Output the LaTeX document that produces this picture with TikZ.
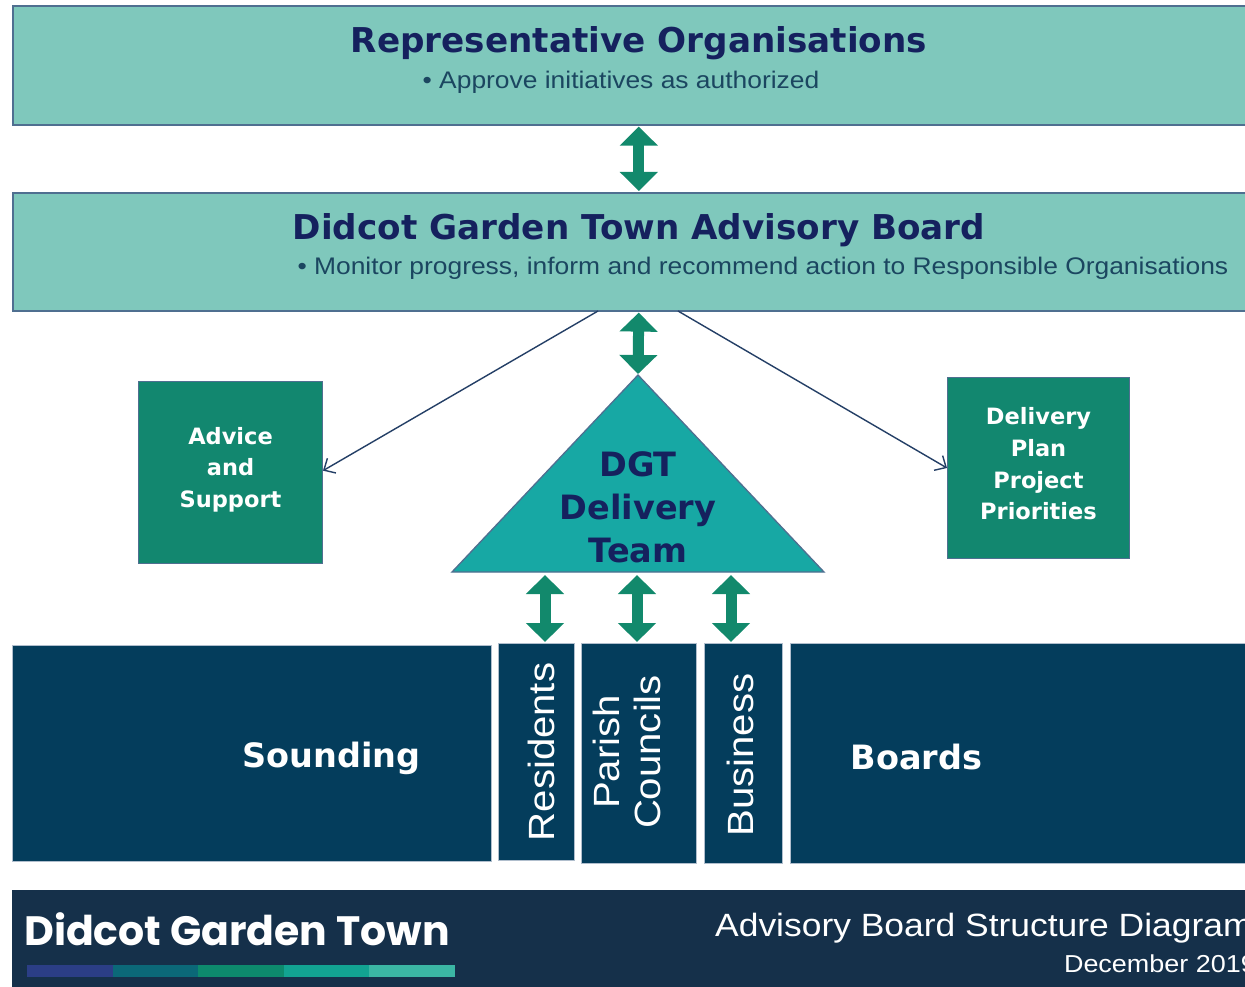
\documentclass[tikz,border=0pt]{standalone}
\usepackage{fontspec}
\setmainfont{Liberation Sans}[FakeStretch=1.1]
\newfontfamily\headfont{DejaVu Sans}
\newfontfamily\logofont{Poppins}
\usetikzlibrary{arrows.meta,calc}
\definecolor{lightteal}{HTML}{7FC8BC}
\definecolor{boxline}{HTML}{4F6F90}
\definecolor{navytxt}{HTML}{15215E}
\definecolor{subtxt}{HTML}{1B4660}
\definecolor{arrowgreen}{HTML}{12896C}
\definecolor{tealtri}{HTML}{17A8A4}
\definecolor{greenbox}{HTML}{12876F}
\definecolor{bottomnavy}{HTML}{043D5C}
\definecolor{footnavy}{HTML}{15304A}
\definecolor{thinline}{HTML}{243F66}
\definecolor{barA}{HTML}{2B3E86}
\definecolor{barB}{HTML}{0B6878}
\definecolor{barC}{HTML}{0D8A6D}
\definecolor{barD}{HTML}{12A392}
\definecolor{barE}{HTML}{3BB6A4}
\begin{document}
\begin{tikzpicture}[x=1pt,y=-1pt,
  bigbox/.style={draw=boxline,line width=1.6pt,fill=lightteal,inner sep=0pt,anchor=north west},
  fatarrow/.style={draw=arrowgreen,line width=11pt,{Triangle[width=37pt,length=19pt]}-{Triangle[width=37pt,length=19pt]},shorten <=1pt,shorten >=1pt},
  sidebox/.style={draw=boxline,line width=1pt,fill=greenbox,inner sep=0pt,anchor=north west},
  sidetext/.style={text=white,align=center,font=\headfont\bfseries\fontsize{22.5}{31.7}\selectfont},
  navybox/.style={draw=boxline!45,line width=1.2pt,fill=bottomnavy,inner sep=0pt,anchor=north west},
  vlabel/.style={text=white,font=\fontsize{36.5}{41}\selectfont,rotate=90,align=center},
  thinarrow/.style={draw=thinline,line width=1.4pt,-{Straight Barb[length=9pt,width=17pt,line width=1.4pt]}},
  headtxt/.style={text=navytxt,font=\headfont\bfseries\fontsize{34.2}{36}\selectfont},
  subtext/.style={text=subtxt,font=\fontsize{24}{24}\selectfont}
]
\useasboundingbox (0,0) rectangle (1245,987);
\clip (0,0) rectangle (1245,987);
\fill[white] (0,0) rectangle (1245,987);

% top boxes
\node[bigbox,minimum width=1252pt,minimum height=119pt] (rep) at (12,5) {};
\node[headtxt] (reptitle) at (639,43) {Representative Organisations};
\node[subtext] (repsub) at (621,82) {\textbullet\ Approve initiatives as authorized};

\node[bigbox,minimum width=1252pt,minimum height=118pt] (board) at (12,192) {};
\node[headtxt] (boardtitle) at (639,230) {Didcot Garden Town Advisory Board};
\node[subtext,anchor=west] (boardsub) at (294,268) {\textbullet\ Monitor progress, inform and recommend action to Responsible Organisations};

% triangle
\coordinate (apex) at (638,375);
\coordinate (bl) at (452,572);
\coordinate (br) at (824,572);
\draw[draw=boxline,line width=1.3pt,fill=tealtri] (apex) -- (br) -- (bl) -- cycle;
\node[headtxt,align=center,font=\headfont\bfseries\fontsize{33.5}{43}\selectfont] (dgt) at (638,507) {DGT\\Delivery\\Team};

% side boxes
\node[sidebox,minimum width=184pt,minimum height=182pt] (advice) at (138,381) {};
\node[sidetext] (advicetxt) at ($(advice.center)+(0,-3)$) {Advice\\and\\Support};
\node[sidebox,minimum width=182pt,minimum height=181pt] (plan) at (947,377) {};
\node[sidetext] (plantxt) at ($(plan.center)+(0,-4)$) {Delivery\\Plan\\Project\\Priorities};

% bottom boxes
\node[navybox,minimum width=479pt,minimum height=216pt] (sound) at (12,645) {};
\node[navybox,minimum width=76pt,minimum height=217pt] (res) at (498,643) {};
\node[navybox,minimum width=115pt,minimum height=220pt] (par) at (581,643) {};
\node[navybox,minimum width=78pt,minimum height=220pt] (bus) at (704,643) {};
\node[navybox,minimum width=480pt,minimum height=220pt] (boards) at (790,643) {};

\node[text=white,font=\headfont\bfseries\fontsize{33.5}{33.5}\selectfont,anchor=east] (soundtxt) at ($(sound.east)+(-68,5)$) {Sounding};
\node[text=white,font=\headfont\bfseries\fontsize{33.5}{33.5}\selectfont,anchor=west] (boardstxt) at ($(boards.west)+(57,3)$) {Boards};
\node[vlabel] (restxt) at (541,752) {Residents};
\node[vlabel] (partxt) at (627,752) {Parish\\Councils};
\node[vlabel] (bustxt) at (740,755) {Business};

% fat arrows
\draw[fatarrow] (rep.south) -- (board.north);
\draw[fatarrow] (board.south) -- (apex);
\coordinate (t1) at (545,574);
\coordinate (t2) at (637,574);
\coordinate (t3) at (731,574);
\draw[fatarrow] (t1) -- (t1 |- res.north);
\draw[fatarrow] (t2) -- (t2 |- par.north);
\draw[fatarrow] (t3) -- (t3 |- bus.north);

% thin arrows
\coordinate (bs1) at (598,311);
\coordinate (bs2) at (678,311);
\draw[thinarrow] (bs1) -- ($(advice.north east)!0.49!(advice.south east)$);
\draw[thinarrow] (bs2) -- ($(plan.north west)!0.5!(plan.south west)$);

% footer
\node[fill=footnavy,minimum width=1260pt,minimum height=110pt,inner sep=0pt,anchor=north west] (foot) at (12,890) {};
\node[text=white,font=\logofont\bfseries\fontsize{41}{41}\selectfont,anchor=west,inner sep=0pt] (logo) at (24,929) {Didcot Garden Town};
\foreach \c [count=\i from 0] in {barA,barB,barC,barD,barE}{
  \fill[\c] ({27+\i*85.6},965) rectangle ({27+(\i+1)*85.6},977);
}
\node[text=white,font=\fontsize{32.2}{32.2}\selectfont,anchor=west,inner sep=0pt] (advtitle) at (715,928) {Advisory Board Structure Diagram};
\node[text=white,font=\fontsize{24.5}{24.5}\selectfont,anchor=east,inner sep=0pt] (date) at (1256,964) {December 2019};
\end{tikzpicture}
\end{document}
